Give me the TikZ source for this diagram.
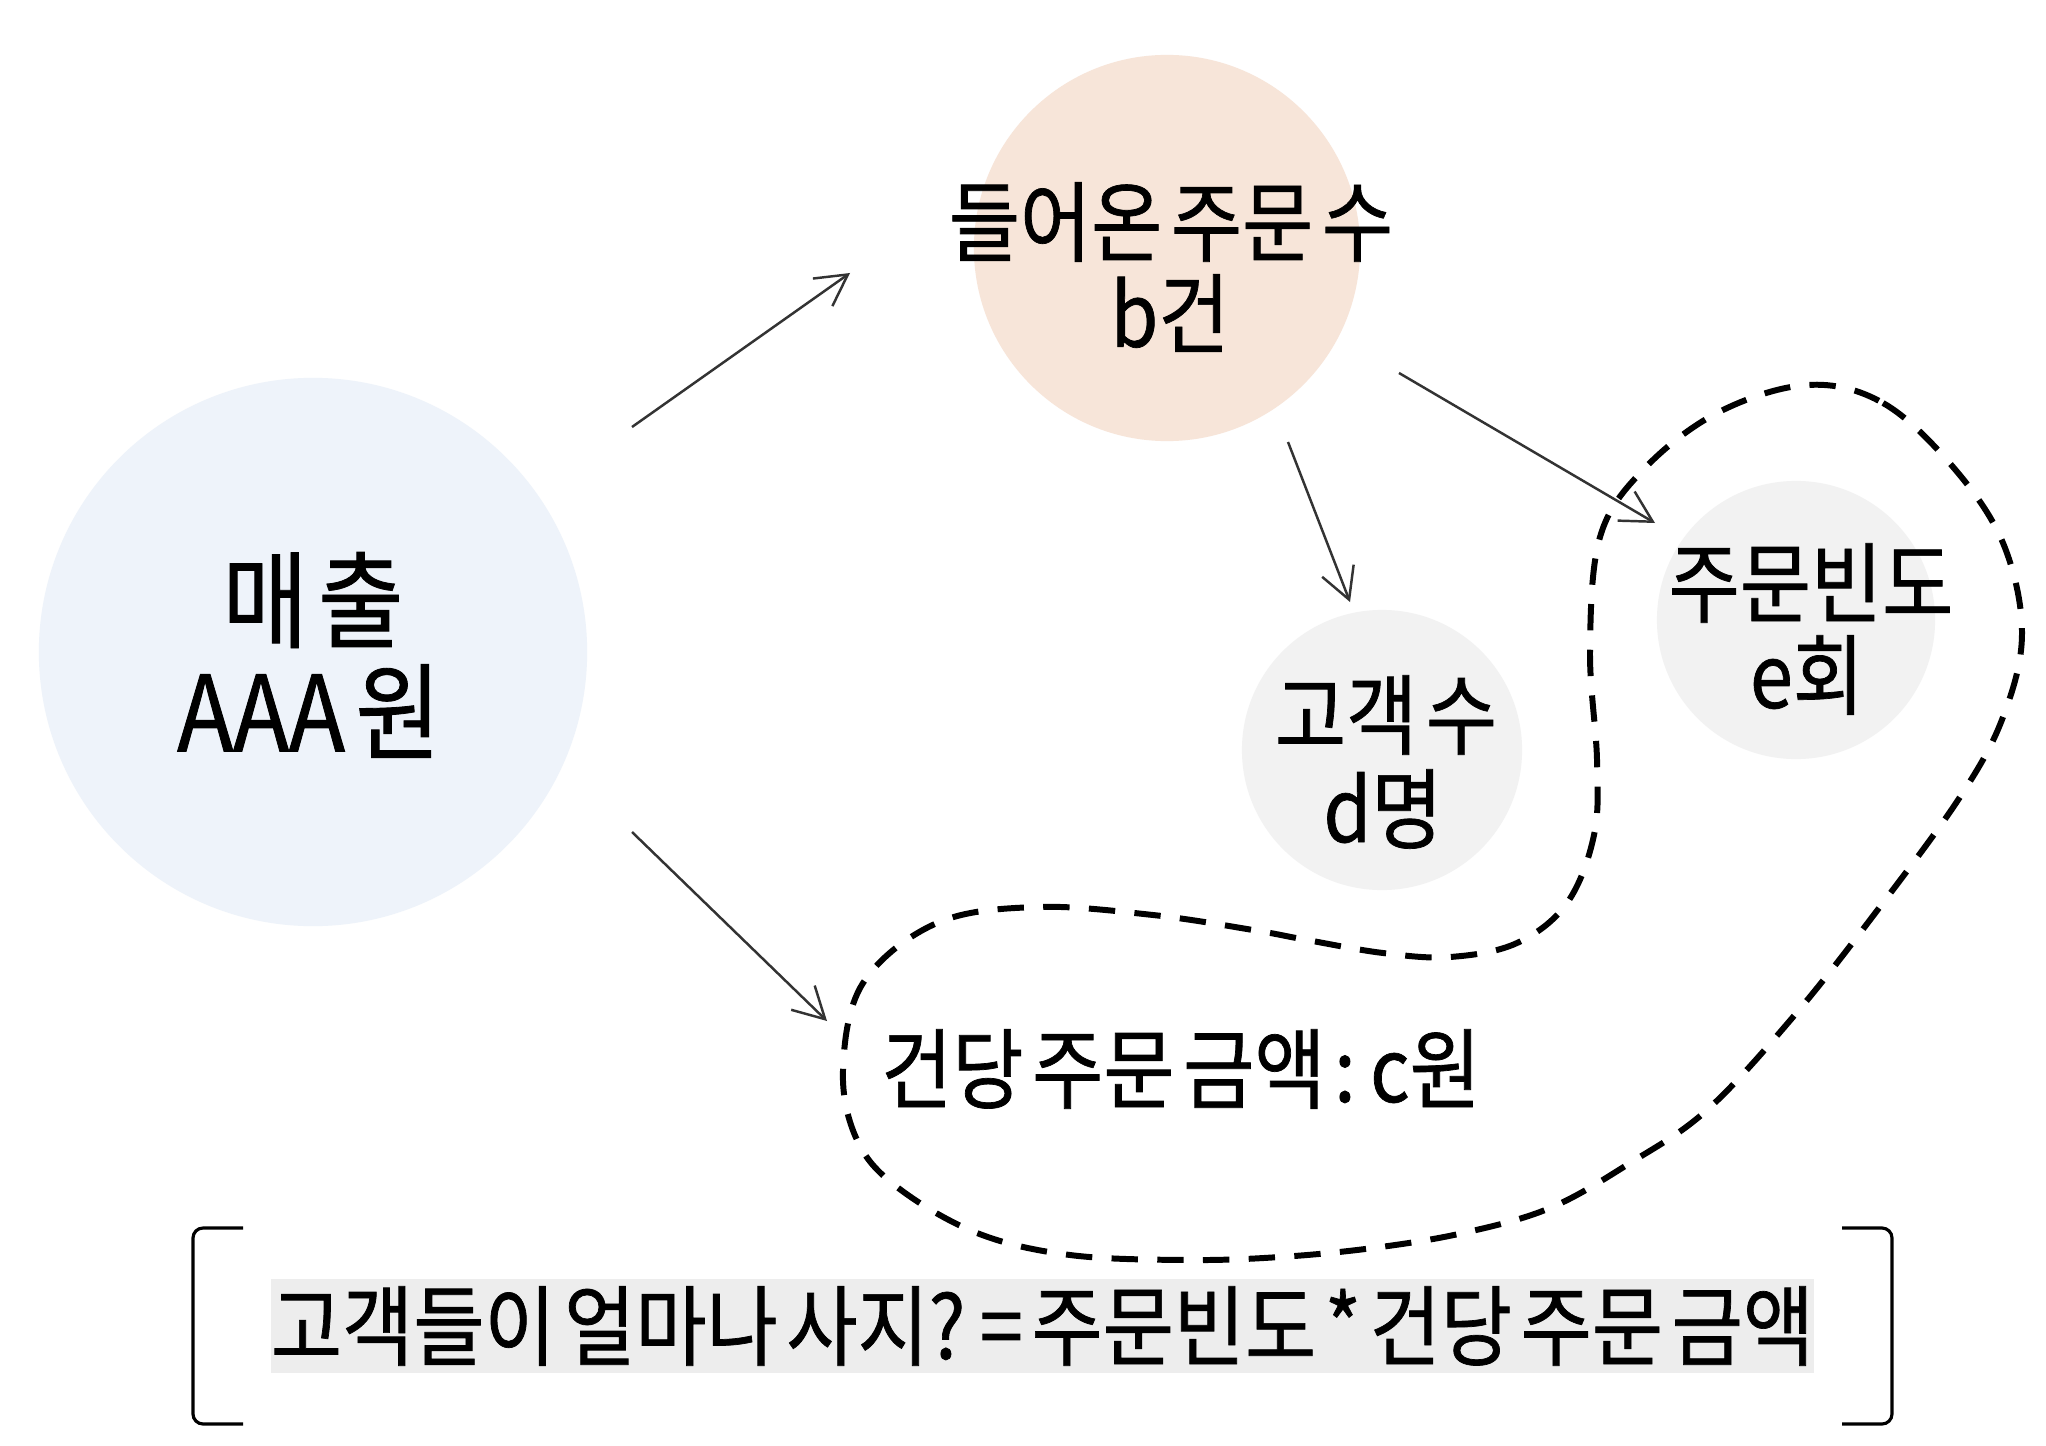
\documentclass[tikz,border=0pt]{standalone}
\usepackage{fontspec}
\setmainfont{Noto Sans CJK KR}[FakeStretch=0.88, FakeBold=0.8, WordSpace=0.5]
\usetikzlibrary{arrows.meta}
\definecolor{salesblue}{HTML}{EEF3FA}
\definecolor{orderpeach}{HTML}{F7E5D9}
\definecolor{bubblegray}{HTML}{F2F2F2}
\definecolor{boxgray}{HTML}{EDEDED}
\definecolor{arrowgray}{HTML}{333333}
\begin{document}
\begin{tikzpicture}[x=0.01cm,y=-0.01cm,
  bubble/.style={circle, inner sep=0pt, draw=none},
  lbl/.style={inner sep=0pt, font=\fontsize{25pt}{30pt}\selectfont},
  biglbl/.style={inner sep=0pt, font=\fontsize{30pt}{36pt}\selectfont},
  link/.style={draw=arrowgray, line width=0.7pt, -{Straight Barb[length=8.8pt,width=9.6pt]}},
  blob/.style={draw=black, line width=1.7pt, dash pattern=on 7.5pt off 5.5pt},
  brack/.style={draw=black, line width=0.9pt, rounded corners=0.1cm}]
\useasboundingbox[fill=white] (0,0) rectangle (2046,1446);

% bubbles
\node[bubble, fill=salesblue, minimum size=5.48cm] (sales) at (313,652) {};
\node[bubble, fill=orderpeach, minimum size=3.86cm] (orders) at (1167,248) {};
\node[bubble, fill=bubblegray, minimum size=2.80cm] (cust) at (1382,750) {};
\node[bubble, fill=bubblegray, minimum size=2.78cm] (freq) at (1796,620) {};

% labels
\node[biglbl] (salesA) at (313,600) {매 출};
\node[biglbl] (salesB) at (309,711) {AAA 원};
\node[lbl] (ordersA) at (1171,222) {들어온 주문 수};
\node[lbl] (ordersB) at (1170,313) {b건};
\node[lbl] (custA) at (1386,715) {고객 수};
\node[lbl] (custB) at (1383,809) {d명};
\node[lbl] (freqA) at (1811,583) {주문빈도};
\node[lbl] (freqB) at (1807,675) {e회};
\node[lbl] (amount) at (1181,1069) {건당 주문 금액 : c원};

% dashed enclosure
\draw[blob] plot[smooth cycle, tension=0.6] coordinates {
 (1807,385) (1883,403) (1953,467) (2003,543) (2022,633) (2003,717) (1960,797)
 (1876,912) (1793,1017) (1707,1110) (1630,1163) (1550,1208) (1463,1233)
 (1373,1248) (1280,1257) (1187,1260) (1070,1255) (977,1233) (897,1187)
 (857,1140) (843,1070) (863,983) (937,923) (1037,907) (1153,915) (1253,930)
 (1307,940) (1383,953) (1450,957) (1517,943) (1567,903) (1594,835)
 (1597,760) (1590,650) (1600,537) (1643,470) (1717,413)};

% arrows
\coordinate (a1s) at (632,427);
\coordinate (a1e) at (850,273);
\coordinate (a2s) at (632,832);
\coordinate (a2e) at (827,1021);
\coordinate (a3s) at (1288,442);
\coordinate (a3e) at (1350,602);
\coordinate (a4s) at (1399,373);
\coordinate (a4e) at (1655,523);
\draw[link] (a1s) -- (a1e);
\draw[link] (a2s) -- (a2e);
\draw[link] (a3s) -- (a3e);
\draw[link] (a4s) -- (a4e);

% formula box
\node[fill=boxgray, inner sep=0pt, minimum width=15.41cm, minimum height=0.94cm,
      font=\fontsize{25pt}{30pt}\selectfont] (formula) at (1042.5,1326)
      {고객들이 얼마나 사지? = 주문빈도 * 건당 주문 금액};

% brackets
\draw[brack] (243,1228) -- (193,1228) -- (193,1424) -- (243,1424);
\draw[brack] (1842,1228) -- (1892,1228) -- (1892,1424) -- (1842,1424);
\end{tikzpicture}
\end{document}
